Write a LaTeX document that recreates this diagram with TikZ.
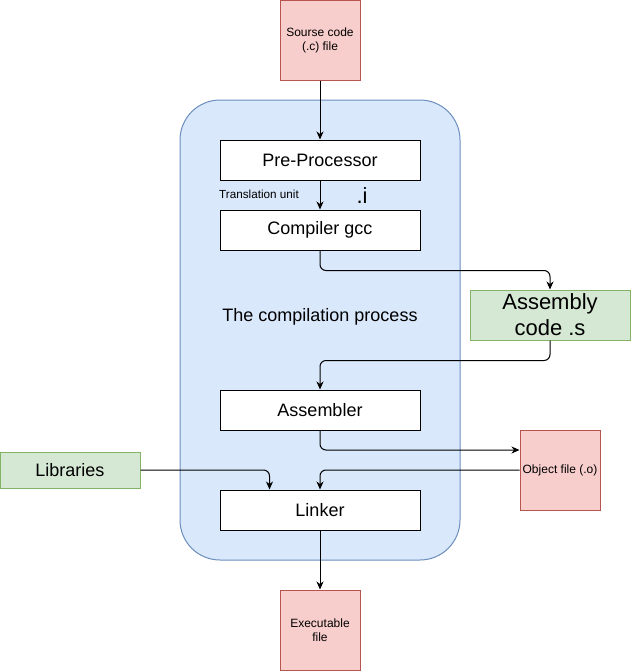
\documentclass[tikz,border=0pt]{standalone}
\usepackage{fontspec}
\setmainfont{Liberation Sans}
\usetikzlibrary{arrows.meta}
\definecolor{redfill}{HTML}{F8CECC}
\definecolor{redline}{HTML}{B85450}
\definecolor{greenfill}{HTML}{D5E8D4}
\definecolor{greenline}{HTML}{82B366}
\definecolor{bluefill}{HTML}{DAE8FC}
\definecolor{blueline}{HTML}{6C8EBF}
\tikzset{
  redbox/.style={draw=redline, fill=redfill, line width=1pt, minimum width=80pt, minimum height=80pt, inner sep=0pt, align=center, font=\fontsize{12}{14}\selectfont},
  greenbox/.style={draw=greenline, fill=greenfill, line width=1pt, inner sep=0pt, align=center},
  whitebox/.style={draw=black, fill=white, line width=1pt, minimum width=200pt, minimum height=40pt, inner sep=0pt, font=\fontsize{18}{21}\selectfont},
  arr/.style={draw=black, line width=1pt, rounded corners=6pt, -{Stealth[length=8pt,width=7pt,inset=2.5pt]}}
}
\begin{document}
\begin{tikzpicture}[x=1pt,y=-1pt]
\useasboundingbox (0,0) rectangle (632,672);
\node[draw=blueline, fill=bluefill, line width=1pt, rounded corners=40pt, minimum width=280pt, minimum height=460pt, inner sep=0pt] (proc) at (320,330) {};
\node[redbox] (src) at (320,40) {Sourse code\\(.c) file};
\node[whitebox] (pre) at (320,160) {Pre-Processor};
\node[whitebox] (comp) at (320,230) {Compiler gcc};
\node[font=\fontsize{11.7}{14}\selectfont, inner sep=0pt] (tu) at (259,194) {Translation unit};
\node[font=\fontsize{22}{26}\selectfont, inner sep=0pt] (dot) at (362,196) {.i};
\node[font=\fontsize{18}{21}\selectfont, inner sep=0pt] (title) at (320,317) {The compilation process};
\node[greenbox, minimum width=160pt, minimum height=50pt, font=\fontsize{22}{26}\selectfont] (asmc) at (550,315) {Assembly\\code .s};
\node[whitebox] (asmb) at (320,410) {Assembler};
\node[redbox] (obj) at (560,470) {Object file (.o)};
\node[greenbox, minimum width=140pt, minimum height=36pt, font=\fontsize{18}{21}\selectfont] (lib) at (70,470) {Libraries};
\node[whitebox] (link) at (320,510) {Linker};
\node[redbox] (exe) at (320,630) {Executable\\file};
\draw[arr] (src.south) -- (pre.north);
\draw[arr] (pre.south) -- (comp.north);
\draw[arr] (comp.south) -- ++(0,20) -| (asmc.north);
\draw[arr] (asmc.south) -- ++(0,20) -| (asmb.north);
\draw[arr] (asmb.south) |- ([yshift=20pt]obj.west);
\draw[arr] (obj.west) -| (link.north);
\draw[arr] (lib.east) -| ([xshift=50pt]link.north west);
\draw[arr] (link.south) -- (exe.north);
\end{tikzpicture}
\end{document}
